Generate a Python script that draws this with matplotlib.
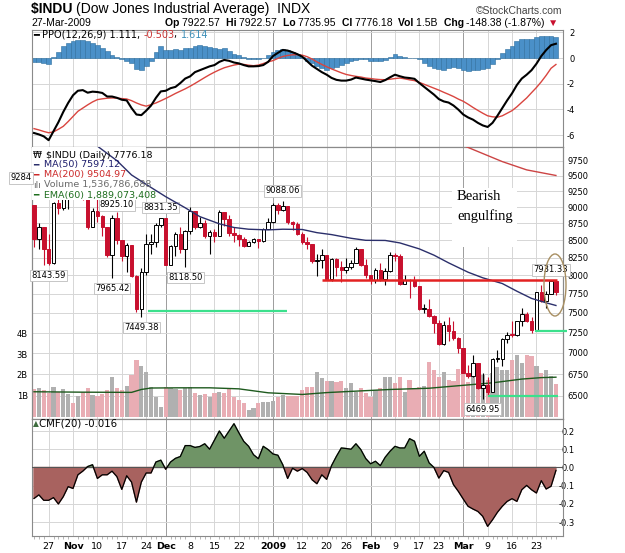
import matplotlib
matplotlib.use("Agg")
import matplotlib.pyplot as plt
from matplotlib.patches import Ellipse, Rectangle
from matplotlib.ticker import NullLocator
from matplotlib.transforms import blended_transform_factory
import numpy as np

plt.rcParams['font.family'] = 'DejaVu Sans'
plt.rcParams['axes.unicode_minus'] = False

# daily bars 22-Oct-2008 .. 27-Mar-2009 (108 sessions)
prev_close = 9033.22
open_ = [9033.22, 8519.21, 8691.25, 8378.95, 8175.77, 9065.12, 8990.96, 9180.69,
         9325.01, 9319.83, 9625.28, 9139.27, 8695.79, 8943.81, 8870.54, 8693.96, 8282.66, 8835.25,
         8497.31, 8273.58, 8424.75, 7997.28, 7552.29, 8046.42, 8443.39, 8479.47, 8726.61,
         8829.04, 8149.09, 8419.09, 8591.69, 8376.24, 8635.42, 8934.18, 8691.33, 8761.42, 8565.09,
         8629.68, 8564.53, 8924.14, 8824.34, 8604.99, 8579.11, 8519.69, 8419.49, 8468.48, 8515.55,
         8483.93, 8668.39,
         8776.39, 9034.69, 8952.89, 9015.10, 8769.70, 8742.46, 8599.18, 8473.97, 8448.56, 8200.14,
         8212.49, 8281.22, 7949.09, 8228.10, 8122.80, 8077.56, 8116.03, 8174.73, 8375.45, 8149.01,
         8000.86, 7936.75, 8078.36, 7956.66, 8063.07, 8280.59, 8270.87, 7888.88, 7939.53, 7932.76,
         7850.41, 7552.60, 7555.63, 7465.95, 7365.67, 7114.78, 7350.94, 7270.89, 7182.08,
         7062.93, 6763.29, 6726.02, 6875.84, 6594.44, 6626.94, 6547.05, 6926.49, 6930.40, 7170.06,
         7223.98, 7216.97, 7395.70, 7486.58, 7400.80, 7278.38, 7775.86, 7660.21, 7749.81, 7922.57]
high = [9040, 8760, 8700, 8600, 9085, 9375, 9270, 9400,
        9420, 9653, 9626, 9140, 8980, 9190, 8880, 8700, 8876, 8925.10,
        8500, 8460, 8430, 8000, 8100, 8600, 8600, 8750, 8831.35,
        8830, 8430, 8620, 8690, 8650, 9010, 8940, 8850, 8800, 8650,
        8660, 8950, 8930, 8880, 8700, 8600, 8550, 8490, 8530, 8520, 8680, 8830,
        9065, 9070, 9088.06, 9020, 8790, 8770, 8630, 8550, 8450, 8300, 8380,
        8290, 8240, 8240, 8200, 8250, 8220, 8400, 8380, 8230,
        8010, 8100, 8180, 8100, 8330, 8320, 8300, 8000, 7950, 7990,
        7855, 7620, 7680, 7470, 7410, 7400, 7450, 7400, 7190,
        7065, 6860, 6980, 6880, 6760, 6720, 6940, 7030, 7180, 7260,
        7400, 7400, 7560, 7510, 7450, 7780, 7870, 7790, 7931.33, 7922.57]
low = [8400, 8380, 8150, 8143.59, 8160, 8900, 8950, 8970,
       9250, 9319, 9110, 8670, 8690, 8780, 8570, 8260, 7965.42, 8450,
       8200, 8050, 7980, 7510, 7449.38, 8000, 8300, 8400, 8700,
       8140, 8140, 8270, 8320, 8118.50, 8600, 8660, 8680, 8530, 8300,
       8480, 8560, 8710, 8560, 8480, 8420, 8400, 8410, 8460, 8390, 8480, 8660,
       8760, 8900, 8940, 8740, 8650, 8580, 8440, 8380, 8180, 7990, 8100,
       7940, 7930, 7990, 7910, 8040, 8090, 8170, 8130, 7960,
       7880, 7900, 7930, 7870, 8050, 8200, 7870, 7880, 7700, 7840,
       7540, 7500, 7450, 7250, 7100, 7100, 7150, 7160, 7000,
       6760, 6700, 6720, 6580, 6469.95, 6515, 6540, 6890, 6840, 7120,
       7200, 7210, 7330, 7380, 7250, 7278, 7640, 7560, 7745, 7735.95]
close = [8519.21, 8691.25, 8378.95, 8175.77, 9065.12, 8990.96, 9180.69, 9325.01,
         9319.83, 9625.28, 9139.27, 8695.79, 8943.81, 8870.54, 8693.96, 8282.66, 8835.25, 8497.31,
         8273.58, 8424.75, 7997.28, 7552.29, 8046.42, 8443.39, 8479.47, 8726.61, 8829.04,
         8149.09, 8419.09, 8591.69, 8376.24, 8635.42, 8934.18, 8691.33, 8761.42, 8565.09, 8629.68,
         8564.53, 8924.14, 8824.34, 8604.99, 8579.11, 8519.69, 8419.49, 8468.48, 8515.55, 8483.93,
         8668.39, 8776.39,
         9034.69, 8952.89, 9015.10, 8769.70, 8742.46, 8599.18, 8473.97, 8448.56, 8200.14, 8212.49,
         8281.22, 7949.09, 8228.10, 8122.80, 8077.56, 8116.03, 8174.73, 8375.45, 8149.01, 8000.86,
         7936.75, 8078.36, 7956.66, 8063.07, 8280.59, 8270.87, 7888.88, 7939.53, 7932.76, 7850.41,
         7552.60, 7555.63, 7465.95, 7365.67, 7114.78, 7350.94, 7270.89, 7182.08, 7062.93,
         6763.29, 6726.02, 6875.84, 6594.44, 6626.94, 6547.05, 6926.49, 6930.40, 7170.06, 7223.98,
         7216.97, 7395.70, 7486.58, 7400.80, 7278.38, 7775.86, 7660.21, 7749.81, 7924.56, 7776.18]
# volume in billions of shares
volume = [1.30, 1.36, 1.28, 1.11, 1.40, 1.19, 1.30, 1.08, 0.63, 0.98,
          1.19, 1.36, 1.03, 0.98, 1.08, 1.28, 1.88, 1.36, 1.28, 1.45,
          2.00, 2.71, 2.45, 2.15, 1.43, 0.95, 0.47, 1.40, 1.36, 1.30,
          1.28, 1.36, 1.40, 1.11, 1.03, 1.08, 0.95, 1.11, 1.19, 1.11,
          1.36, 0.92, 0.79, 0.63, 0.31, 0.39, 0.63, 0.71, 0.71, 0.76,
          0.95, 1.03, 0.98, 0.98, 0.98, 1.27, 1.40, 1.43, 2.15, 1.83,
          1.72, 1.72, 1.67, 1.72, 1.35, 1.59, 1.19, 1.35, 1.11, 0.95,
          1.27, 1.35, 1.91, 1.91, 1.59, 1.91, 1.19, 1.75, 1.35, 1.43,
          1.45, 2.60, 2.25, 1.90, 2.15, 1.75, 1.70, 2.30, 2.30, 1.65,
          2.35, 2.20, 2.00, 1.75, 2.10, 2.40, 2.25, 2.25, 2.70, 2.95,
          2.55, 2.95, 2.90, 2.45, 2.10, 2.25, 1.95, 1.54]

ppo = [-5.84, -5.95, -6.1, -6.4, -5.7, -5.0, -4.2, -3.5, -2.9, -2.55,
       -2.5, -2.7, -2.62, -2.65, -2.72, -3.0, -3.0, -3.1, -3.25, -3.3,
       -3.9, -4.4, -4.45, -4.1, -3.7, -3.1, -2.6, -2.55, -2.35, -2.25,
       -1.95, -1.6, -1.43, -1.1, -0.95, -0.8, -0.65, -0.55, -0.3, -0.15,
       -0.22, -0.35, -0.42, -0.55, -0.65, -0.65, -0.63, -0.55, -0.3, 0.15,
       0.4, 0.63, 0.58, 0.45, 0.3, 0.1, -0.25, -0.6, -0.85, -1.1,
       -1.3, -1.55, -1.7, -1.76, -1.76, -1.68, -1.52, -1.6, -1.68, -1.74,
       -1.8, -1.87, -1.72, -1.5, -1.3, -1.42, -1.52, -1.56, -1.62, -1.95,
       -2.25, -2.55, -2.85, -3.2, -3.38, -3.47, -3.7, -4.02, -4.4, -4.63,
       -4.8, -5.05, -5.25, -5.37, -5.05, -4.5, -3.9, -3.3, -2.75, -2.1,
       -1.6, -1.3, -0.95, -0.45, 0.15, 0.62, 1.0, 1.111]
ppo_signal = [-5.5, -5.6, -5.72, -5.82, -5.75, -5.55, -5.32, -4.95, -4.55, -4.15,
              -3.9, -3.65, -3.42, -3.24, -3.18, -3.13, -3.11, -3.12, -3.16, -3.19,
              -3.32, -3.5, -3.65, -3.75, -3.63, -3.5, -3.33, -3.15, -2.96, -2.76,
              -2.58, -2.4, -2.2, -1.98, -1.75, -1.52, -1.3, -1.1, -0.92, -0.76,
              -0.65, -0.55, -0.48, -0.5, -0.56, -0.6, -0.55, -0.43, -0.3, -0.2,
              -0.03, 0.12, 0.2, 0.25, 0.26, 0.22, 0.1, -0.08, -0.3, -0.5,
              -0.68, -0.85, -1.0, -1.15, -1.28, -1.36, -1.43, -1.48, -1.56, -1.6,
              -1.65, -1.68, -1.69, -1.65, -1.6, -1.56, -1.62, -1.7, -1.76, -1.9,
              -2.05, -2.2, -2.35, -2.5, -2.67, -2.83, -3.0, -3.2, -3.37, -3.6,
              -3.85, -4.08, -4.3, -4.5, -4.58, -4.61, -4.5, -4.3, -4.1, -3.8,
              -3.45, -3.11, -2.7, -2.3, -1.85, -1.35, -0.8, -0.503]
ppo_hist = [-0.3, -0.3, -0.4, -0.45, 0.05, 0.5, 0.9, 1.2, 1.35, 1.4,
            1.4, 1.35, 1.2, 1.05, 0.8, 0.55, 0.2, 0.1, -0.1, -0.2,
            -0.4, -0.85, -0.9, -0.6, -0.2, 0.5, 0.9, 0.6, 0.65, 0.7,
            0.65, 0.75, 0.8, 0.95, 1.0, 0.9, 0.85, 0.8, 0.7, 0.8,
            0.55, 0.35, 0.2, 0.05, -0.1, -0.1, -0.05, 0.0, 0.2, 0.45,
            0.6, 0.7, 0.65, 0.5, 0.3, 0.05, -0.2, -0.4, -0.6, -0.8,
            -0.9, -0.8, -0.7, -0.55, -0.4, -0.25, -0.15, -0.1, -0.1, -0.2,
            -0.25, -0.2, -0.15, 0.05, 0.3, 0.15, 0.05, 0.0, 0.0, -0.05,
            -0.4, -0.6, -0.75, -0.85, -0.9, -0.8, -0.7, -0.75, -0.95, -1.0,
            -0.95, -0.9, -0.85, -0.75, -0.5, -0.1, 0.4, 0.7, 0.95, 1.3,
            1.45, 1.5, 1.45, 1.6, 1.7, 1.7, 1.75, 1.614]
cmf = [-0.17, -0.15, -0.18, -0.18, -0.165, -0.2, -0.16, -0.105, -0.115, -0.04,
       -0.02, 0.005, 0.015, -0.06, -0.04, -0.04, -0.02, -0.05, -0.12, -0.045,
       -0.08, -0.19, -0.08, -0.03, -0.03, 0.03, 0.04, -0.01, 0.03, 0.05,
       0.06, 0.12, 0.12, 0.11, 0.115, 0.13, 0.1, 0.15, 0.2, 0.16,
       0.2, 0.24, 0.19, 0.143, 0.116, 0.07, 0.048, 0.116, 0.098, 0.074,
       0.067, 0.015, -0.06, -0.004, -0.02, -0.006, -0.027, -0.067, -0.089, -0.04,
       -0.065, 0.01, 0.061, 0.107, 0.104, 0.1, 0.13, 0.098, 0.049, 0.02,
       0.034, 0.01, 0.056, 0.089, 0.116, 0.107, 0.107, 0.158, 0.144, 0.061,
       0.089, 0.025, 0.0, -0.058, -0.017, -0.027, -0.094, -0.131, -0.173, -0.213,
       -0.228, -0.241, -0.268, -0.323, -0.287, -0.246, -0.213, -0.186, -0.171, -0.186,
       -0.122, -0.098, -0.122, -0.14, -0.072, -0.118, -0.103, -0.016]

ma50_idx = [12, 17, 20, 24, 27, 31, 34, 38, 41, 44, 48, 51, 55, 58, 61,
            65, 68, 72, 75, 79, 82, 85, 89, 92, 96, 99, 102, 105, 107]
ma50 = [10060, 9751, 9513, 9310, 9164, 8990, 8854, 8745, 8690, 8664, 8654, 8664, 8660, 8613, 8584,
        8530, 8500, 8498, 8462, 8375, 8285, 8176, 8045, 7968, 7890, 7786, 7690, 7632, 7597]
ma200_idx = [88, 90, 96, 101, 107]
ma200 = [10010, 9940, 9735, 9597, 9505]
ema60_idx = [0, 10, 20, 22, 24, 30, 36, 42, 48, 55, 60, 66, 73, 81, 88, 94, 100, 104, 107]
ema60 = [1.19, 1.17, 1.16, 1.30, 1.37, 1.38, 1.38, 1.33, 1.14, 1.06, 1.15, 1.22,
         1.30, 1.36, 1.50, 1.62, 1.80, 1.87, 1.89]

tick_idx = [3, 8, 13, 18, 23, 27, 32, 37, 42, 49, 55, 60, 64, 69, 74, 79, 83, 88, 93, 98, 103]
tick_labels = ["27", "Nov", "10", "17", "24", "Dec", "8", "15", "22", "2009",
               "12", "20", "26", "Feb", "9", "17", "23", "Mar", "9", "16", "23"]
bold_labels = ["Nov", "Dec", "2009", "Feb", "Mar"]
grid_idx = [3, 8, 13, 18, 23, 27, 32, 37, 42, 46, 49, 55, 60, 64, 69, 74, 79, 83, 88, 93, 98, 103]
month_idx = [27, 49, 69, 88]
price_ticks = [6500, 6750, 7000, 7250, 7500, 7750, 8000, 8250, 8500, 8750, 9000, 9250, 9500, 9750]

# high / low callouts: (bar, value, offset in points)
callouts = [(3, 8143.59, -7.6), (16, 7965.42, -7.6), (17, 8925.10, 5.2), (22, 7449.38, -7.6),
            (26, 8831.35, 7.6), (31, 8118.50, -7.6), (51, 9088.06, 7.6),
            (92, 6469.95, -7.6), (106, 7931.33, 7.6)]

RED = '#c8102e'
GRID = '#d6d6d6'
MONTH = '#9c9c9c'
EDGE = '#8a8a8a'

fig = plt.figure(figsize=(6.25, 5.53), dpi=100)


def fx(px):
    return px / 625


def fy(py):
    return 1 - py / 553


L, R = 32, 563
ax_ppo = fig.add_axes([fx(L), fy(147), (R - L) / 625, (147 - 29.5) / 553])
ax_vol = fig.add_axes([fx(L), fy(419), (R - L) / 625, (419 - 147) / 553])
ax_cmf = fig.add_axes([fx(L), fy(536), (R - L) / 625, (536 - 419) / 553])
ax_p = ax_vol.twinx()

x = np.arange(len(close))
XLIM = (-0.41, 108.45)

for ax in (ax_ppo, ax_vol, ax_cmf, ax_p):
    ax.set_xlim(*XLIM)
    for s in ax.spines.values():
        s.set_color(EDGE)
        s.set_linewidth(0.8)
for ax in (ax_ppo, ax_vol, ax_cmf):
    for g in grid_idx:
        ax.axvline(g, color=MONTH if g in month_idx else GRID, lw=0.7, zorder=0)

# ---- PPO panel ----
for v in [-6, -4, -2, 0, 2]:
    ax_ppo.axhline(v, color=GRID, lw=0.7, zorder=0)
ax_ppo.bar(x, ppo_hist, width=1.0, color='#4a90c8', edgecolor='#2c6e9e', lw=0.4, zorder=2)
ax_ppo.plot(x, ppo_signal, color='#d9453f', lw=1.0, zorder=3)
ax_ppo.plot(x, ppo, color='black', lw=1.5, zorder=4)
ax_ppo.set_ylim(-6.93, 2.22)
ax_ppo.set_xticks([])
ax_ppo.yaxis.tick_right()
ax_ppo.set_yticks([-6, -4, -2, 0, 2])
ax_ppo.set_yticklabels(['-6', '-4', '-2', '0', '2'])
ax_ppo.tick_params(axis='y', length=0, pad=8.5, labelsize=6)
for lbl in ax_ppo.get_yticklabels():
    lbl.set_horizontalalignment('right')

# ---- price / volume panel ----
down = [close[i] < (prev_close if i == 0 else close[i - 1]) for i in x]
ax_vol.bar(x, volume, width=0.86, color=['#e9adb4' if d else '#b0b0b0' for d in down], zorder=2)
ax_vol.plot(ema60_idx, ema60, color='#1e5a1e', lw=1.0, zorder=3)

ptrans = blended_transform_factory(ax_vol.transAxes, ax_p.transData)
for p in price_ticks:
    ax_vol.plot([0, 1], [p, p], transform=ptrans, color=GRID, lw=0.7, zorder=0)

ax_vol.set_ylim(-0.12, 12.96)
ax_vol.set_xticks([])
ax_vol.set_yticks([1, 2, 3, 4])
ax_vol.set_yticklabels(['1B', '2B', '3B', '4B'])
ax_vol.tick_params(axis='y', length=0, pad=3, labelsize=6)

ax_p.set_yscale('log')
cols = [RED if d else 'black' for d in down]
ax_p.vlines(x, low, high, colors=cols, lw=0.8, zorder=3)
bot = [min(o, c) for o, c in zip(open_, close)]
top = [max(max(o, c), min(o, c) * 1.0015) for o, c in zip(open_, close)]
faces = [col if c < o else 'white' for col, o, c in zip(cols, open_, close)]
ax_p.bar(x, np.array(top) - np.array(bot), bottom=bot, width=0.72,
         color=faces, edgecolor=cols, lw=0.7, zorder=4)

ax_p.plot(ma50_idx, ma50, color='#2b2f6b', lw=1.0, zorder=6)
ax_p.plot(ma200_idx, ma200, color='#cc4444', lw=1.0, zorder=6)

# drawn annotations
ax_p.hlines(7940, 59.0, 107.2, color='#e32222', lw=1.8, zorder=6)
ax_p.hlines(7530, 23.4, 51.9, color='#3be08c', lw=1.6, zorder=6)
ax_p.hlines(7274, 102.7, 109.2, color='#3be08c', lw=1.6, zorder=6, clip_on=False)
ax_p.hlines(6505, 93.1, 107.4, color='#3be08c', lw=1.6, zorder=6)
ax_p.add_patch(Ellipse(((555 - L) / 531, 1 - (285 - 147) / 272), 22 / 531, 62 / 272,
                       transform=ax_p.transAxes, fill=False, ec='#a88f62', lw=1.0,
                       clip_on=False, zorder=7))

for i, val, off in callouts:
    ax_p.annotate(f"{val:.2f}", xy=(i, val), xytext=(0, off),
                  textcoords='offset points', ha='center', va='center', fontsize=6,
                  bbox=dict(boxstyle='square,pad=0.15', fc='white', ec='#bdbdbd', lw=0.6),
                  zorder=4.5)

# legend background and text box behind the comment
ax_p.add_patch(Rectangle((0, 1 - (200 - 147) / 272), (146 - L) / 531, (200 - 147) / 272,
                         transform=ax_p.transAxes, fc='white', ec='none', zorder=5))
ax_p.add_patch(Rectangle(((452 - L) / 531, 1 - (247 - 147) / 272), 65 / 531, 59 / 272,
                         transform=ax_p.transAxes, fc='white', ec='none', zorder=4))

ax_p.set_ylim(6247, 9983)
ax_p.yaxis.set_minor_locator(NullLocator())
ax_p.set_yticks(price_ticks)
ax_p.set_yticklabels([str(p) for p in price_ticks])
ax_p.tick_params(axis='y', which='both', length=0, pad=3, labelsize=6)

# ---- CMF panel ----
for v in [-0.3, -0.2, -0.1, 0.1, 0.2]:
    ax_cmf.axhline(v, color=GRID, lw=0.7, zorder=0)
cmf_a = np.array(cmf)
ax_cmf.fill_between(x, cmf_a, 0, where=cmf_a >= 0, interpolate=True, color='#6f9466', zorder=2)
ax_cmf.fill_between(x, cmf_a, 0, where=cmf_a <= 0, interpolate=True, color='#a8625f', zorder=2)
ax_cmf.axhline(0, color='#555555', lw=0.8, zorder=3)
ax_cmf.plot(x, cmf, color='black', lw=0.9, zorder=4)
ax_cmf.set_ylim(-0.376, 0.266)
ax_cmf.yaxis.tick_right()
ax_cmf.set_yticks([-0.3, -0.2, -0.1, 0.0, 0.1, 0.2])
ax_cmf.set_yticklabels(['-0.3', '-0.2', '-0.1', '0.0', '0.1', '0.2'])
ax_cmf.tick_params(axis='y', length=0, pad=8.5, labelsize=6)
for lbl in ax_cmf.get_yticklabels():
    lbl.set_horizontalalignment('right')
ax_cmf.set_xticks(tick_idx)
ax_cmf.set_xticklabels(tick_labels)
ax_cmf.set_xticks(x, minor=True)
ax_cmf.tick_params(axis='x', which='major', length=0, pad=4, labelsize=6.8)
ax_cmf.tick_params(axis='x', which='minor', length=2, color='#aaaaaa')
for lbl in ax_cmf.get_xticklabels():
    if lbl.get_text() in bold_labels:
        lbl.set_fontweight('bold')


# ---- texts ----
def chain(ax, x0, y0, parts, size, family):
    prev = fig.text(x0, y0, parts[0][0], color=parts[0][1], fontweight=parts[0][2],
                    fontsize=size, family=family, va='bottom')
    for txt, color, weight in parts[1:]:
        prev = ax.annotate(txt, xy=(1, 0), xycoords=prev, va='bottom', ha='left',
                           color=color, fontweight=weight, fontsize=size, family=family,
                           annotation_clip=False)
    return prev


hdr = 'Liberation Sans'
chain(ax_ppo, fx(31), fy(16), [('$INDU ', 'black', 'bold'),
                              ('(Dow Jones Industrial Average)  INDX', 'black', 'normal')], 10, hdr)
fig.text(fx(562), fy(11), '\u00a9StockCharts.com', ha='right', va='center', fontsize=7.5,
         family=hdr, color='#444444')
fig.text(fx(31), fy(23), '27-Mar-2009', va='center', fontsize=7.5, family=hdr)
chain(ax_ppo, fx(165), fy(28), [('Op ', 'black', 'bold'), ('7922.57  ', 'black', 'normal'),
                               ('Hi ', 'black', 'bold'), ('7922.57  ', 'black', 'normal'),
                               ('Lo ', 'black', 'bold'), ('7735.95  ', 'black', 'normal'),
                               ('Cl ', 'black', 'bold'), ('7776.18  ', 'black', 'normal'),
                               ('Vol ', 'black', 'bold'), ('1.5B  ', 'black', 'normal'),
                               ('Chg ', 'black', 'bold'), ('-148.38 (-1.87%) ', 'black', 'normal'),
                               ('\u25bc', '#c8102e', 'normal')], 7.5, hdr)

chain(ax_ppo, fx(33), fy(39.5), [('\u2501 ', 'black', 'normal'),
                                ('PPO(12,26,9) 1.111, ', 'black', 'normal'),
                                ('-0.503', '#cc3333', 'normal'), (', ', 'black', 'normal'),
                                ('1.614', '#3d8fb8', 'normal')], 7, 'DejaVu Sans')

legend_rows = [('\u20a9 ', 'black', '$INDU (Daily) 7776.18', 'black', 155),
               ('\u2501', '#2b2f6b', 'MA(50) 7597.12', '#1c1c6b', 165),
               ('\u2501', '#cc2929', 'MA(200) 9504.97', '#cc2929', 175),
               ('\u0131l\u0131', '#6b6b6b', 'Volume 1,536,786,688', '#6b6b6b', 185),
               ('\u2501', '#1e6e1e', 'EMA(60) 1,889,073,408', '#1e6e1e', 195)]
for icon, icol, txt, tcol, ypx in legend_rows:
    fig.text(fx(33), fy(ypx), icon, color=icol, fontsize=6.5, va='center')
    fig.text(fx(44 if icon != '\u20a9 ' else 46), fy(ypx), txt, color=tcol, fontsize=6.8, va='center')

fig.text(fx(21), fy(178), '9284', ha='center', va='center', fontsize=6,
         bbox=dict(boxstyle='square,pad=0.15', fc='white', ec='#bdbdbd', lw=0.6))

fig.text(fx(33), fy(424), '\u25b2', color='#3d6b3d', fontsize=5.5, va='center')
fig.text(fx(39), fy(424), 'CMF(20) -0.016', fontsize=7.3, va='center')

fig.text(fx(457), fy(197), 'Bearish', family='Liberation Serif', fontsize=10.5, va='center')
fig.text(fx(457), fy(216), 'engulfing', family='Liberation Serif', fontsize=10.5, va='center')

fig.savefig('out.png', dpi=100)
